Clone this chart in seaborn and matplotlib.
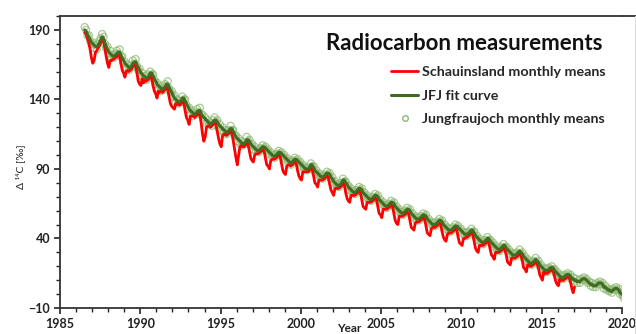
import numpy as np
import pandas as pd
import matplotlib
matplotlib.use("Agg")
import matplotlib.pyplot as plt
from matplotlib.lines import Line2D
from matplotlib.ticker import MultipleLocator
import seaborn as sns

# ---------------- data ----------------
# JFJ fit curve, monthly, Jul 1986 .. Jan 2020
FIT_START = 1986 + 6.5 / 12
jfj_fit = [
    190, 189, 187, 185, 183, 181,
    180, 179, 178, 178, 179, 181, 183, 185, 184, 181, 178, 176,
    174, 173, 172, 171, 171, 172, 173, 174, 174, 172, 170, 168,
    166, 165, 164, 163, 163, 164, 166, 167, 167, 165, 163, 161,
    159, 158, 157, 156, 155, 156, 157, 159, 159, 157, 155, 153,
    151, 150, 149, 148, 147, 148, 149, 151, 151, 149, 147, 145,
    143, 141, 140, 139, 138, 138, 139, 141, 141, 139, 137, 135,
    133, 132, 131, 130, 129, 130, 131, 132, 132, 130, 128, 127,
    126, 125, 124, 123, 122, 123, 124, 125, 125, 124, 122, 121,
    120, 119, 118, 117, 116, 117, 118, 119, 119, 117, 115, 113,
    112, 111, 110, 109, 108, 108, 109, 111, 111, 110, 108, 107,
    106, 105, 104, 103, 103, 104, 105, 106, 106, 105, 104, 103,
    102, 101, 100, 99, 99, 100, 101, 102, 102, 101, 100, 99,
    98, 97, 96, 95, 94, 95, 96, 97, 97, 96, 95, 94,
    93, 92, 91, 90, 90, 90, 91, 93, 93, 91, 89, 88,
    87, 86, 85, 84, 84, 85, 86, 87, 87, 86, 84, 83,
    81, 80, 79, 78, 78, 79, 80, 82, 82, 80, 79, 77,
    76, 75, 74, 73, 73, 74, 75, 76, 76, 75, 73, 72,
    71, 70, 69, 68, 68, 69, 70, 71, 71, 70, 68, 67,
    66, 65, 64, 63, 63, 64, 65, 66, 66, 65, 63, 62,
    61, 60, 59, 58, 58, 59, 60, 61, 61, 60, 58, 57,
    56, 55, 54, 54, 54, 55, 56, 57, 57, 56, 54, 53,
    52, 51, 50, 50, 50, 51, 52, 53, 53, 52, 50, 49,
    48, 47, 46, 46, 46, 47, 48, 49, 49, 48, 47, 46,
    45, 44, 43, 43, 43, 44, 45, 46, 46, 44, 42, 41,
    40, 39, 38, 37, 37, 38, 39, 40, 40, 38, 37, 36,
    35, 34, 33, 32, 32, 33, 34, 35, 35, 33, 32, 31,
    30, 29, 28, 28, 28, 29, 30, 31, 30, 29, 27, 26,
    25, 24, 23, 22, 22, 23, 24, 25, 24, 23, 21, 20,
    19, 18, 17, 17, 17, 18, 19, 19, 19, 17, 16, 15,
    14, 13, 12, 12, 12, 13, 14, 14, 14, 13, 11, 11,
    10, 10, 9, 9, 9, 10, 11, 11, 11, 10, 9, 8,
    7, 7, 6, 6, 6, 7, 8, 8, 8, 7, 5, 5,
    4, 3, 3, 2, 2, 3, 4, 4, 4, 3, 1, 0,
    0,
]

# Jungfraujoch monthly means, Jul 1986 .. Feb 2020
JFJ_START = 1986 + 6.5 / 12
jfj_monthly = [
    192, 190, 186, 186, 182, 180,
    181, 177, 179, 176, 180, 182, 184, 187, 185, 180, 177, 178,
    173, 175, 170, 172, 170, 173, 175, 173, 176, 171, 171, 166,
    167, 163, 165, 161, 164, 163, 168, 166, 169, 164, 161, 162,
    157, 159, 155, 157, 154, 158, 156, 160, 158, 158, 154, 151,
    152, 148, 150, 146, 148, 147, 151, 150, 153, 148, 145, 146,
    142, 143, 138, 140, 137, 139, 138, 142, 140, 140, 136, 133,
    134, 130, 132, 128, 130, 129, 133, 131, 134, 129, 129, 125,
    127, 123, 125, 122, 123, 121, 125, 127, 124, 125, 120, 122,
    118, 120, 116, 118, 115, 118, 117, 121, 118, 118, 114, 114,
    110, 112, 108, 110, 107, 109, 108, 113, 110, 111, 107, 108,
    104, 106, 103, 104, 102, 105, 104, 107, 105, 106, 103, 104,
    101, 102, 99, 100, 98, 101, 100, 103, 101, 102, 99, 100,
    97, 98, 95, 96, 93, 96, 95, 98, 96, 97, 94, 95,
    92, 93, 90, 91, 89, 91, 90, 94, 92, 92, 88, 89,
    86, 87, 84, 85, 83, 86, 85, 88, 86, 87, 83, 84,
    80, 81, 78, 79, 77, 80, 79, 83, 81, 81, 78, 78,
    75, 76, 73, 74, 72, 75, 74, 77, 75, 76, 72, 73,
    70, 71, 68, 69, 67, 70, 69, 72, 70, 71, 67, 68,
    65, 66, 63, 64, 62, 65, 64, 67, 65, 66, 62, 63,
    60, 61, 58, 59, 57, 60, 59, 62, 60, 61, 57, 58,
    55, 56, 53, 55, 53, 56, 55, 58, 56, 57, 53, 54,
    51, 52, 49, 51, 49, 52, 51, 54, 52, 53, 49, 50,
    47, 48, 45, 47, 45, 48, 47, 50, 48, 49, 46, 47,
    44, 45, 42, 44, 42, 45, 44, 47, 45, 45, 41, 42,
    39, 40, 37, 38, 36, 39, 38, 41, 39, 39, 36, 37,
    34, 35, 32, 33, 31, 34, 33, 36, 34, 34, 31, 32,
    29, 30, 27, 29, 27, 30, 29, 32, 29, 30, 26, 27,
    24, 25, 22, 23, 21, 24, 23, 26, 23, 24, 20, 21,
    18, 19, 16, 18, 16, 19, 18, 20, 18, 18, 15, 16,
    13, 14, 11, 13, 11, 14, 13, 15, 13, 14, 10, 12,
    9, 11, 8, 10, 8, 11, 10, 12, 10, 11, 8, 9,
    6, 8, 5, 7, 5, 8, 7, 9, 7, 8, 4, 6,
    3, 4, 2, 3, 1, 4, 3, 5, 3, 4, 0, 1,
    -1, -3,
]

# Schauinsland monthly means, Jul 1986 .. Jan 2017
SIL_START = 1986 + 6.5 / 12
schauinsland = [
    188, 187, 184, 181, 176, 170,
    166, 168, 174, 175, 177, 179, 181, 183, 182, 177, 171, 166,
    163, 168, 168, 169, 169, 170, 171, 172, 171, 166, 161, 159,
    156, 160, 161, 160, 161, 162, 164, 165, 164, 159, 153, 151,
    150, 155, 152, 154, 153, 154, 155, 157, 156, 150, 146, 144,
    141, 146, 145, 146, 145, 146, 147, 149, 148, 142, 137, 135,
    134, 133, 137, 137, 136, 136, 137, 139, 138, 132, 127, 125,
    122, 128, 128, 128, 127, 128, 129, 130, 129, 123, 115, 110,
    113, 120, 121, 121, 120, 121, 122, 123, 122, 117, 112, 108,
    106, 114, 115, 115, 114, 115, 116, 117, 116, 110, 104, 98,
    93, 100, 106, 107, 106, 106, 107, 109, 108, 103, 98, 96,
    95, 100, 101, 101, 101, 102, 103, 104, 103, 98, 93, 92,
    90, 96, 97, 97, 97, 98, 99, 100, 99, 94, 89, 87,
    86, 92, 93, 93, 92, 93, 94, 95, 94, 89, 85, 83,
    82, 88, 88, 88, 88, 88, 89, 91, 90, 85, 80, 79,
    77, 82, 82, 82, 82, 83, 84, 85, 84, 79, 75, 73,
    71, 76, 76, 76, 76, 77, 78, 80, 79, 73, 69, 67,
    66, 71, 71, 71, 71, 72, 73, 74, 73, 68, 63, 62,
    61, 66, 66, 66, 66, 67, 68, 69, 68, 63, 58, 57,
    55, 61, 61, 61, 61, 62, 63, 64, 63, 58, 53, 51,
    50, 56, 56, 56, 56, 57, 58, 59, 58, 53, 48, 47,
    46, 51, 52, 52, 52, 53, 54, 55, 54, 49, 44, 43,
    42, 47, 48, 48, 48, 49, 50, 51, 50, 45, 41, 39,
    38, 43, 44, 44, 44, 45, 46, 47, 46, 41, 37, 36,
    35, 40, 40, 41, 41, 42, 43, 44, 43, 38, 33, 31,
    30, 35, 35, 35, 35, 36, 37, 38, 37, 32, 28, 27,
    25, 30, 30, 30, 30, 31, 32, 33, 32, 28, 23, 22,
    21, 26, 26, 26, 26, 27, 28, 29, 28, 24, 19, 18,
    16, 21, 21, 20, 20, 21, 22, 23, 22, 19, 14, 12,
    10, 16, 15, 15, 15, 16, 17, 17, 17, 13, 9, 7,
    6, 11, 10, 10, 10, 11, 12, 12, 12, 9, 4, 1,
    5,
]

x_ticks = [1985, 1990, 1995, 2000, 2005, 2010, 2015, 2020]
y_ticks = [-10, 40, 90, 140, 190]
title = "Radiocarbon measurements"
labels = ["Schauinsland monthly means", "JFJ fit curve", "Jungfraujoch monthly means"]

# ---------------- frames ----------------
def monthly_frame(start, values):
    return pd.DataFrame({"year": start + np.arange(len(values)) / 12.0,
                         "value": values})

df_sil = monthly_frame(SIL_START, schauinsland)
df_fit = monthly_frame(FIT_START, jfj_fit)
df_jfj = monthly_frame(JFJ_START, jfj_monthly)

# ---------------- style ----------------
sns.set_style("ticks")
plt.rcParams["font.family"] = ["Lato", "DejaVu Sans"]
plt.rcParams["axes.linewidth"] = 1.3
plt.rcParams["axes.edgecolor"] = "#333333"

RED = "#ff0000"
GREEN = "#3f6b22"
CIRCLE = "#8db872"

fig = plt.figure(figsize=(6.36, 3.34), dpi=100)
ax = fig.add_axes([60 / 636, 1 - 308 / 334, (622 - 60) / 636, (308 - 16) / 334])

sns.scatterplot(data=df_jfj, x="year", y="value", ax=ax, marker="o", s=26,
                facecolors="none", edgecolor=CIRCLE, linewidth=0.9, alpha=0.75,
                zorder=2, legend=False)
sns.lineplot(data=df_sil, x="year", y="value", ax=ax, color=RED, linewidth=2.0,
             zorder=3, legend=False)
sns.lineplot(data=df_fit, x="year", y="value", ax=ax, color=GREEN, linewidth=2.2,
             zorder=4, legend=False)

ax.set_xlim(1985, 2020)
ax.set_ylim(-10, 200)
ax.set_xticks(x_ticks)
ax.set_yticks(y_ticks)
ax.xaxis.set_minor_locator(MultipleLocator(1))
ax.yaxis.set_minor_locator(MultipleLocator(10))
ax.tick_params(axis="both", which="major", direction="out", length=4, width=1.2,
               labelsize=9, colors="#222222", pad=3)
ax.tick_params(axis="both", which="minor", direction="out", length=3, width=1.0,
               colors="#222222")
for lab in ax.get_xticklabels() + ax.get_yticklabels():
    lab.set_fontweight("bold")

ax.spines["right"].set_visible(False)
ax.spines["top"].set_visible(True)
ax.set_xlabel("")
ax.set_ylabel("")

# extended chart frame (top line reaches the figure's right edge)
fig.add_artist(Line2D([622 / 636, 1.0], [1 - 16 / 334, 1 - 16 / 334],
                      transform=fig.transFigure, color="#333333", linewidth=1.3))
fig.add_artist(Line2D([635 / 636, 635 / 636], [1 - 16 / 334, 0.0],
                      transform=fig.transFigure, color="#dddddd", linewidth=0.8))

fig.text(349 / 636, 1 - 329 / 334, "Year", ha="center", va="center",
         fontsize=8.5, fontweight="bold", color="#222222")
fig.text(20 / 636, 1 - 167 / 334, "Δ ¹⁴C [‰]", ha="center", va="center",
         rotation=90, fontsize=7.5, color="#222222")

fig.text(464 / 636, 1 - 44 / 334, title, ha="center", va="center",
         fontsize=16, fontweight="bold", color="#111111")

handles = [
    Line2D([], [], color=RED, linewidth=2.0),
    Line2D([], [], color=GREEN, linewidth=2.2),
    Line2D([], [], color=CIRCLE, marker="o", markerfacecolor="none",
           markersize=4, linestyle="none"),
]
leg = ax.legend(handles, labels, loc="upper left",
                bbox_to_anchor=(384 / 636, 1 - 59 / 334),
                bbox_transform=fig.transFigure, frameon=False,
                prop={"family": ["Lato", "DejaVu Sans"], "weight": "bold", "size": 10.3},
                handlelength=1.9, handletextpad=0.25, labelspacing=0.8,
                borderpad=0.0)

fig.savefig("out.png", dpi=100, facecolor="white")
